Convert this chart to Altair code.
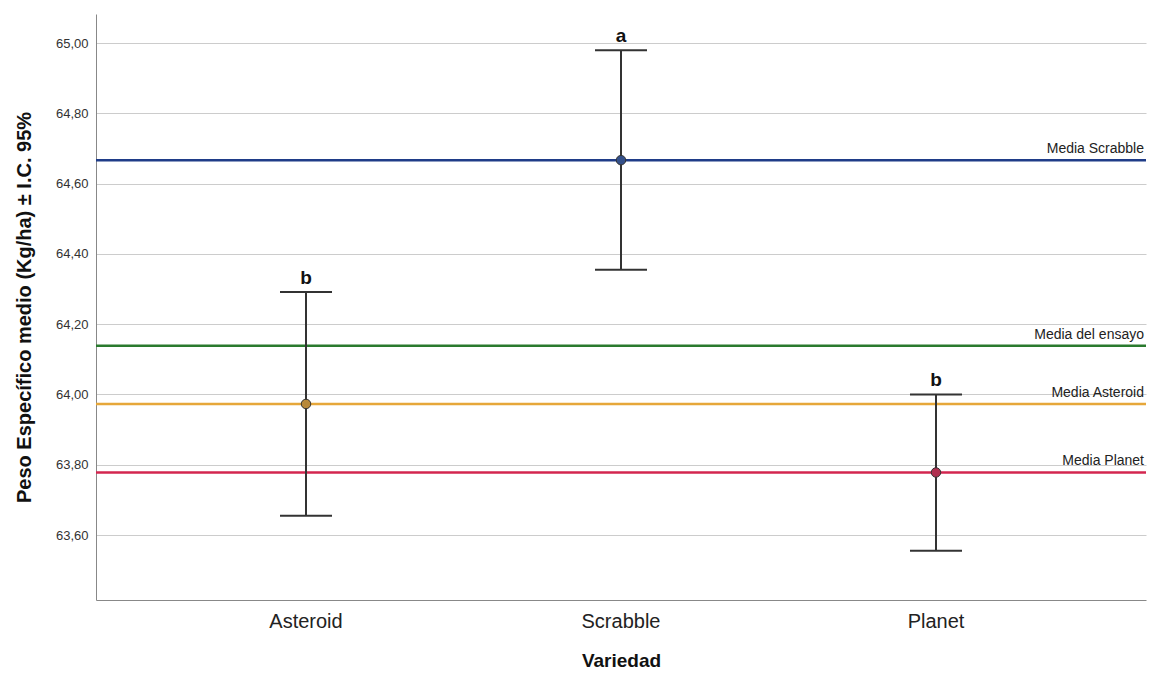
import altair as alt
import pandas as pd

varieties = ["Asteroid", "Scrabble", "Planet"]
means = [63.973, 64.667, 63.778]
lower = [63.655, 64.355, 63.555]
upper = [64.292, 64.980, 64.000]
letters = ["b", "a", "b"]
point_colors = ["#b8893a", "#34508a", "#b03050"]

ref_labels = ["Media Scrabble", "Media del ensayo", "Media Asteroid", "Media Planet"]
ref_values = [64.667, 64.139, 63.973, 63.778]
ref_colors = ["#1f3c88", "#2a7a2e", "#e6a73a", "#d3264f"]

y_ticks = [63.6, 63.8, 64.0, 64.2, 64.4, 64.6, 64.8, 65.0]
y_domain = [63.415, 65.083]

df = pd.DataFrame({"Variedad": varieties, "mean": means, "lower": lower,
                   "upper": upper, "letter": letters, "pcol": point_colors})
ref = pd.DataFrame({"label": ref_labels, "value": ref_values, "col": ref_colors})

FONT = "Liberation Sans"

x_enc = alt.X("Variedad:N", sort=varieties,
              scale=alt.Scale(paddingInner=0, paddingOuter=0.1667),
              axis=alt.Axis(title="Variedad", labelAngle=0, labelFontSize=20,
                            labelColor="#222", labelPadding=11, ticks=False,
                            titleFontSize=19, titleFontWeight="bold",
                            titleColor="#111", titlePadding=20,
                            domainColor="#888", labelFont=FONT, titleFont=FONT))
y_scale = alt.Scale(domain=y_domain, nice=False, zero=False)

base = alt.Chart(df)

grid = base.mark_rule(opacity=0).encode(
    y=alt.Y("mean:Q", scale=y_scale,
            axis=alt.Axis(title="Peso Específico medio (Kg/ha) ± I.C. 95%",
                          values=y_ticks, grid=True, gridColor="#cccccc",
                          gridWidth=1, ticks=False, domainColor="#888",
                          labelExpr="replace(format(datum.value, '.2f'), '.', ',')",
                          labelFontSize=13, labelColor="#333", labelPadding=8,
                          titleFontSize=20, titleFontWeight="bold",
                          titleColor="#111", titleX=-72, titleY=293,
                          titleAngle=270, titleAlign="center",
                          titleBaseline="middle",
                          labelFont=FONT, titleFont=FONT))
)

ref_lines = alt.Chart(ref).mark_rule(strokeWidth=2.5).encode(
    y=alt.Y("value:Q", scale=y_scale),
    color=alt.Color("col:N", scale=None)
)
ref_text = alt.Chart(ref).mark_text(align="right", baseline="bottom", dy=-4,
                                    fontSize=14, font=FONT, color="#222").encode(
    x=alt.value(1048),
    y=alt.Y("value:Q", scale=y_scale),
    text="label:N"
)

err = base.mark_rule(color="#333", strokeWidth=2).encode(
    x=x_enc, y=alt.Y("lower:Q", scale=y_scale), y2="upper:Q")
cap_hi = base.mark_tick(color="#333", thickness=2, size=52, opacity=1).encode(
    x=x_enc, y=alt.Y("upper:Q", scale=y_scale))
cap_lo = base.mark_tick(color="#333", thickness=2, size=52, opacity=1).encode(
    x=x_enc, y=alt.Y("lower:Q", scale=y_scale))
pts = base.mark_point(filled=True, size=90, stroke="#333", strokeWidth=1,
                      opacity=1).encode(
    x=x_enc, y=alt.Y("mean:Q", scale=y_scale),
    fill=alt.Fill("pcol:N", scale=None))
let = base.mark_text(baseline="bottom", dy=-4, fontSize=19, fontWeight="bold",
                     font=FONT, color="#111").encode(
    x=x_enc, y=alt.Y("upper:Q", scale=y_scale), text="letter:N")

chart = alt.layer(grid, ref_lines, ref_text, err, cap_hi, cap_lo, pts, let).properties(
    width=1050, height=586,
    autosize=alt.AutoSizeParams(type="none"),
    padding={"left": 96, "top": 14, "right": 4, "bottom": 75},
    background="white"
).configure_view(stroke=None).configure_axis(domainWidth=1)

chart.save("out.html", embed_options={"renderer": "svg", "actions": False})
